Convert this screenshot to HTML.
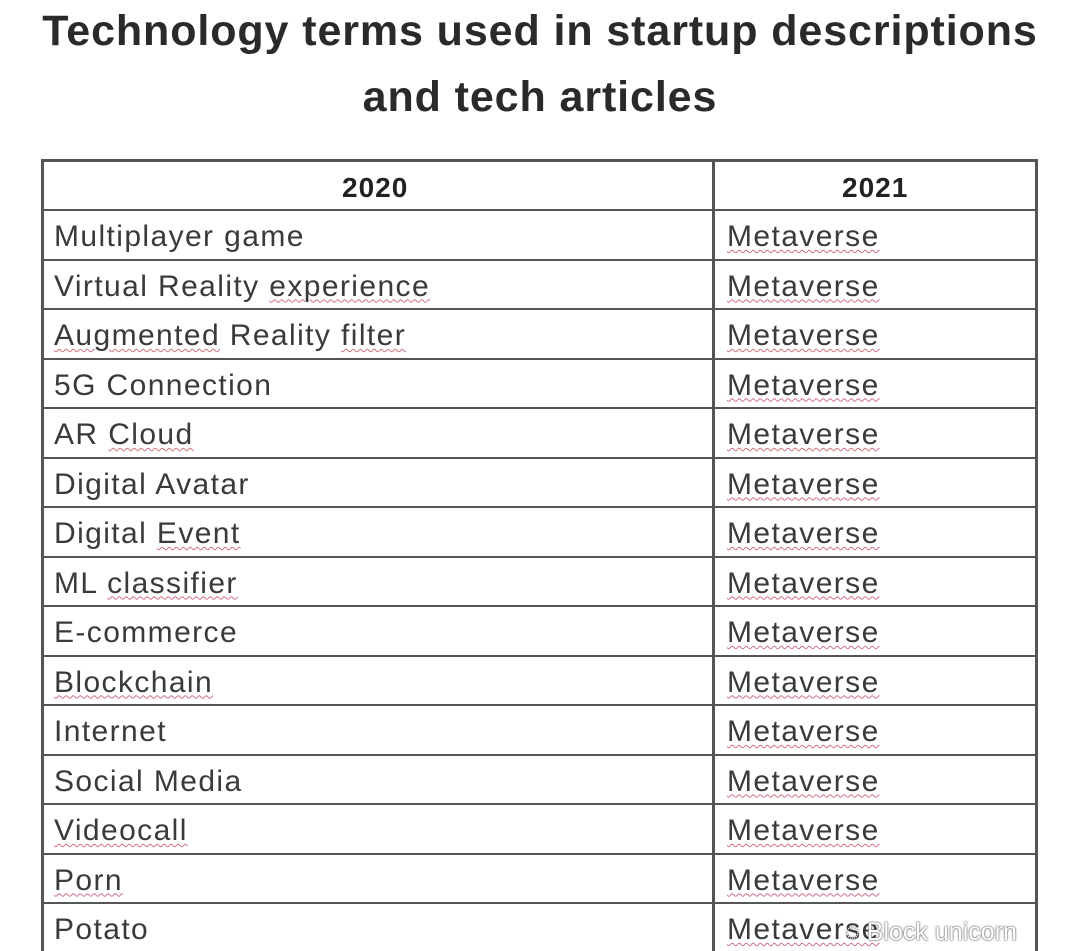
<!DOCTYPE html>
<html><head><meta charset="utf-8"><style>
body{margin:0;width:1080px;height:951px;background:#fff;overflow:hidden;position:relative;font-family:"Liberation Sans",sans-serif;color:#333}
.t{position:absolute;left:0;width:1080px;text-align:center;font-weight:bold;font-size:43px;color:#2a2a2a;letter-spacing:0.9px}
.h{position:absolute;background:#555}
.c{position:absolute;font-size:30px;color:#3a3a3a;white-space:nowrap;letter-spacing:1.4px}
.u{text-decoration:underline wavy #d07080;text-decoration-thickness:1px;text-underline-offset:3px}
.wm{position:absolute;left:845px;top:918px;font-size:25px;color:#fff;text-shadow:0 0 2px #555,0 0 1px #333}
</style></head><body>
<div class="t" style="top:7px">Technology terms used in startup descriptions</div>
<div class="t" style="top:73px">and tech articles</div>
<div class="h" style="left:42px;top:159px;width:996px;height:3px"></div>
<div class="h" style="left:41px;top:159px;width:3px;height:792px"></div>
<div class="h" style="left:1035px;top:159px;width:3px;height:792px"></div>
<div class="h" style="left:712px;top:159px;width:3px;height:792px"></div>
<div id="g"></div>
<div class="c" style="left:342px;top:172px;font-weight:bold;color:#222;font-size:28px;letter-spacing:1px">2020</div>
<div class="c" style="left:842px;top:172px;font-weight:bold;color:#222;font-size:28px;letter-spacing:1px">2021</div>
<script>
var rows=["Multiplayer game","Virtual Reality <span class=u>experience</span>","<span class=u>Augmented</span> Reality <span class=u>filter</span>","5G Connection","AR <span class=u>Cloud</span>","Digital Avatar","Digital <span class=u>Event</span>","ML <span class=u>classifier</span>","E-commerce","<span class=u>Blockchain</span>","Internet","Social Media","<span class=u>Videocall</span>","<span class=u>Porn</span>","Potato"];
var h="";
for(var i=0;i<rows.length;i++){var y=209+i*49.5;
h+='<div class="h" style="left:42px;top:'+y+'px;width:996px;height:2px"></div>';
h+='<div class="c" style="left:54px;top:'+(y+11)+'px">'+rows[i]+'</div>';
h+='<div class="c" style="left:727px;top:'+(y+11)+'px"><span class=u>Metaverse</span></div>';}
document.getElementById("g").innerHTML=h;
</script>
<div class="wm">◌ Block unicorn</div>
</body></html>
